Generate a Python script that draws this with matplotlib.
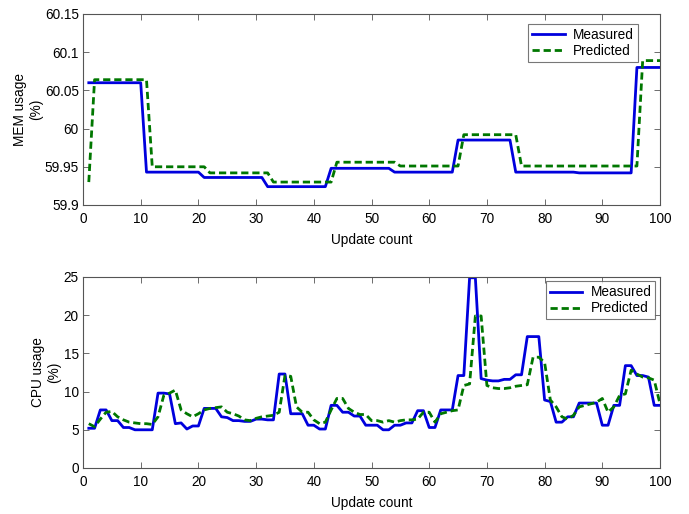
import numpy as np
import matplotlib.pyplot as plt

plt.rcParams['font.family'] = ['Liberation Sans', 'DejaVu Sans']
plt.rcParams['font.size'] = 9.8

updates = np.arange(1, 101)

# MEM usage (%), piecewise levels
mem_measured = ([60.060] * 10 + [59.943] * 10 + [59.936] * 11 + [59.924] * 11
                + [59.948] * 11 + [59.943] * 11 + [59.985] * 10 + [59.943] * 11
                + [59.942] * 10 + [60.080] * 5)
mem_predicted = ([59.930] + [60.064] * 10 + [59.950] * 10 + [59.942] * 11
                 + [59.930] * 11 + [59.956] * 11 + [59.951] * 11 + [59.992] * 10
                 + [59.951] * 21 + [60.089] * 4)

# CPU usage (%)
cpu_measured = [5.2, 5.2, 7.6, 7.6, 6.2, 6.2, 5.3, 5.3, 5.0, 5.0,
                5.0, 5.0, 9.8, 9.8, 9.7, 5.8, 5.9, 5.1, 5.5, 5.5,
                7.8, 7.8, 7.8, 6.7, 6.6, 6.2, 6.2, 6.1, 6.1, 6.4,
                6.4, 6.3, 6.3, 12.3, 12.3, 7.1, 7.1, 7.1, 5.6, 5.6,
                5.1, 5.1, 8.2, 8.2, 7.3, 7.3, 6.8, 6.8, 5.6, 5.6,
                5.6, 5.0, 5.0, 5.6, 5.6, 5.9, 5.9, 7.5, 7.5, 5.3,
                5.3, 7.6, 7.6, 7.6, 12.1, 12.1, 24.9, 24.9, 11.7, 11.5,
                11.4, 11.4, 11.6, 11.6, 12.2, 12.2, 17.2, 17.2, 17.2, 8.9,
                8.7, 6.0, 6.0, 6.7, 6.7, 8.5, 8.5, 8.5, 8.5, 5.6,
                5.6, 8.2, 8.2, 13.4, 13.4, 12.1, 12.1, 11.9, 8.2, 8.2]
cpu_predicted = [5.8, 5.4, 6.4, 7.3, 7.4, 6.7, 6.3, 6.0, 5.9, 5.8,
                 5.8, 5.7, 6.7, 9.5, 9.8, 10.2, 7.6, 7.1, 6.7, 7.1,
                 7.6, 7.8, 7.9, 8.0, 7.3, 7.1, 6.8, 6.3, 6.2, 6.5,
                 6.7, 6.8, 6.9, 7.3, 12.1, 12.0, 8.0, 7.3, 7.3, 6.3,
                 5.8, 6.0, 7.6, 9.1, 9.1, 7.8, 7.3, 7.0, 7.0, 6.2,
                 6.2, 6.0, 6.2, 6.0, 6.2, 6.3, 6.3, 6.4, 7.3, 7.3,
                 6.0, 7.1, 7.3, 7.5, 7.6, 10.8, 11.0, 19.9, 19.9, 10.8,
                 10.5, 10.4, 10.4, 10.5, 10.7, 10.8, 10.9, 14.5, 14.5, 13.8,
                 8.9, 8.0, 6.7, 6.4, 6.9, 8.0, 8.2, 8.4, 8.6, 9.1,
                 7.3, 8.0, 9.5, 9.7, 12.8, 12.3, 11.9, 11.8, 11.5, 8.4]

fig = plt.figure(figsize=(6.89, 5.14), dpi=100)
ax1 = fig.add_axes([0.1205, 0.6012, 0.8374, 0.3716])
ax2 = fig.add_axes([0.1205, 0.0895, 0.8374, 0.3716])

panels = [
    (ax1, mem_measured, mem_predicted, 'MEM usage\n(%)', (59.9, 60.15),
     [59.9, 59.95, 60, 60.05, 60.1, 60.15], ['59.9', '59.95', '60', '60.05', '60.1', '60.15'],
     (0.962, 0.948), -0.095),
    (ax2, cpu_measured, cpu_predicted, 'CPU usage\n(%)', (0, 25),
     [0, 5, 10, 15, 20, 25], ['0', '5', '10', '15', '20', '25'],
     (0.992, 0.978), -0.064),
]

for ax, meas, pred, ylab, ylim, yt, ytl, anchor, labx in panels:
    ax.plot(updates, meas, color='#0000dd', lw=2.0, label='Measured')
    ax.plot(updates, pred, color='#007700', lw=2.0, ls=(0, (2.6, 1.4)), label='Predicted')
    ax.set_xlim(0, 100)
    ax.set_ylim(*ylim)
    ax.set_xticks(np.arange(0, 101, 10))
    ax.set_yticks(yt)
    ax.set_yticklabels(ytl)
    ax.tick_params(direction='in', top=True, right=True, length=4, width=0.6,
                   color='#555555')
    ax.tick_params(axis='x', pad=5)
    ax.tick_params(axis='y', pad=3)
    for s in ax.spines.values():
        s.set_color('#555555')
        s.set_linewidth(0.8)
    ax.set_xlabel('Update count', labelpad=5)
    ax.set_ylabel(ylab, multialignment='center', va='center')
    ax.yaxis.set_label_coords(labx, 0.5)
    leg = ax.legend(loc='upper right', bbox_to_anchor=anchor, fancybox=False,
                    handlelength=2.4, borderpad=0.3, labelspacing=0.15,
                    handletextpad=0.6, borderaxespad=0)
    leg.get_frame().set_edgecolor('#555555')
    leg.get_frame().set_linewidth(0.8)

fig.savefig('out.png', dpi=100)
